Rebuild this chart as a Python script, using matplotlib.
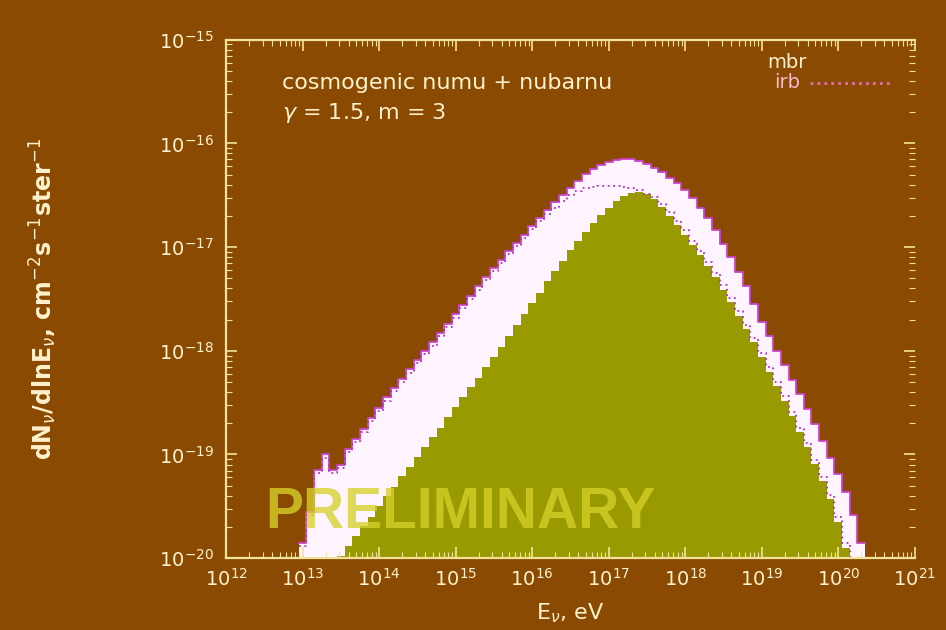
import numpy as np
import matplotlib
matplotlib.use('Agg')
import matplotlib.pyplot as plt
from matplotlib.ticker import LogLocator, NullFormatter

# histogram bins are 0.1 decade wide; values are log10(dN/dlnE)
bin_width = 0.1

# mbr (white band, outer envelope), first bin centred on 10^13.0 eV
mbr_first_edge = 12.95
mbr_log = [-19.85, -19.55, -19.15, -19.00, -19.15, -19.10, -18.95, -18.85, -18.75, -18.65,
           -18.55, -18.45, -18.36, -18.27, -18.18, -18.09, -18.00, -17.92, -17.83, -17.74,
           -17.65, -17.56, -17.47, -17.38, -17.29, -17.20, -17.12, -17.04, -16.96, -16.88,
           -16.80, -16.72, -16.64, -16.57, -16.50, -16.43, -16.36, -16.30, -16.25, -16.21,
           -16.18, -16.16, -16.15, -16.15, -16.17, -16.20, -16.24, -16.28, -16.33, -16.38,
           -16.45, -16.53, -16.62, -16.72, -16.84, -16.97, -17.10, -17.24, -17.38, -17.55,
           -17.72, -17.86, -18.00, -18.14, -18.28, -18.42, -18.56, -18.71, -18.87, -19.03,
           -19.19, -19.36, -19.58, -19.85]

# irb (magenta dotted), same bins as mbr
irb_first_edge = 12.95
irb_log = [-19.88, -19.58, -19.18, -19.03, -19.18, -19.13, -18.98, -18.88, -18.78, -18.68,
           -18.58, -18.48, -18.39, -18.30, -18.21, -18.12, -18.03, -17.95, -17.86, -17.77,
           -17.68, -17.59, -17.50, -17.41, -17.32, -17.23, -17.15, -17.07, -16.99, -16.91,
           -16.83, -16.75, -16.68, -16.62, -16.56, -16.50, -16.46, -16.43, -16.42, -16.41,
           -16.41, -16.41, -16.42, -16.43, -16.45, -16.49, -16.52, -16.58, -16.66, -16.75,
           -16.84, -16.94, -17.04, -17.14, -17.25, -17.37, -17.49, -17.62, -17.75, -17.88,
           -18.02, -18.16, -18.30, -18.44, -18.59, -18.74, -18.89, -19.05, -19.22, -19.39,
           -19.60, -19.85, -20.20, -20.20]

# olive filled histogram, first bin centred on 10^13.5 eV
olive_first_edge = 13.45
olive_log = [-19.98, -19.88, -19.79, -19.69, -19.60, -19.50, -19.40, -19.31, -19.21, -19.12,
             -19.02, -18.93, -18.83, -18.74, -18.64, -18.54, -18.45, -18.35, -18.26, -18.16,
             -18.06, -17.96, -17.86, -17.75, -17.65, -17.54, -17.44, -17.33, -17.23, -17.13,
             -17.03, -16.94, -16.85, -16.77, -16.69, -16.62, -16.56, -16.51, -16.48, -16.47,
             -16.49, -16.54, -16.61, -16.70, -16.79, -16.88, -16.98, -17.08, -17.18, -17.29,
             -17.41, -17.53, -17.66, -17.79, -17.92, -18.06, -18.20, -18.34, -18.48, -18.63,
             -18.78, -18.93, -19.09, -19.26, -19.43, -19.65, -19.90]

x_ticks = [1e12, 1e13, 1e14, 1e15, 1e16, 1e17, 1e18, 1e19, 1e20, 1e21]
y_ticks = [1e-20, 1e-19, 1e-18, 1e-17, 1e-16, 1e-15]

bg = '#8a4a02'
fg = '#fff2cc'
spine_col = '#f3e39a'


def step_xy(first_edge, logvals):
    edges = first_edge + bin_width * np.arange(len(logvals) + 1)
    vals = np.append(logvals, logvals[-1])
    return 10 ** edges, 10 ** vals


fig = plt.figure(figsize=(9.46, 6.3), dpi=100, facecolor=bg)
ax = fig.add_axes([0.239, 0.114, 0.728, 0.823], facecolor=bg)

x, y = step_xy(mbr_first_edge, mbr_log)
ax.fill_between(x, y, 1e-22, step='post', color='#fff4ff', lw=0)
ax.plot(x, y, drawstyle='steps-post', color='#cc44cc', lw=1.3)

x, y = step_xy(olive_first_edge, olive_log)
ax.fill_between(x, y, 1e-22, step='post', color='#999900', lw=0)

x, y = step_xy(irb_first_edge, irb_log)
ax.plot(x, y, drawstyle='steps-post', color='#b030c0', lw=1.3, ls=(0, (1, 2)))

ax.set_xscale('log')
ax.set_yscale('log')
ax.set_xlim(1e12, 1e21)
ax.set_ylim(1e-20, 1e-15)
ax.set_xticks(x_ticks)
ax.set_yticks(y_ticks)
ax.xaxis.set_minor_locator(LogLocator(base=10, subs=np.arange(2, 10), numticks=30))
ax.yaxis.set_minor_locator(LogLocator(base=10, subs=np.arange(2, 10), numticks=30))
ax.xaxis.set_minor_formatter(NullFormatter())
ax.yaxis.set_minor_formatter(NullFormatter())

ax.tick_params(which='both', direction='in', top=True, right=True, colors=spine_col,
               labelcolor=fg, labelsize=14)
ax.tick_params(which='major', length=8, width=1.2)
ax.tick_params(which='minor', length=4, width=0.8)
ax.tick_params(axis='y', pad=9)
ax.tick_params(axis='x', pad=7)

for side in ['left', 'top', 'bottom']:
    ax.spines[side].set_color(spine_col)
    ax.spines[side].set_linewidth(1.6)
ax.spines['right'].set_visible(False)

ax.set_xlabel(r'E$_\nu$, eV', color=fg, fontsize=16, labelpad=8)
ax.set_ylabel(r'dN$_\nu$/dlnE$_\nu$, cm$^{-2}$s$^{-1}$ster$^{-1}$', color=fg,
              fontsize=17, fontweight='bold', labelpad=72)

ax.text(0.081, 0.917, 'cosmogenic numu + nubarnu', transform=ax.transAxes,
        color=fg, fontsize=16, va='center', ha='left')
ax.text(0.081, 0.859, r'$\gamma$ = 1.5, m = 3', transform=ax.transAxes,
        color=fg, fontsize=16, va='center', ha='left')

# key
ax.text(0.843, 0.956, 'mbr', transform=ax.transAxes, color=fg, fontsize=14,
        va='center', ha='right')
ax.text(0.833, 0.917, 'irb', transform=ax.transAxes, color='#f4b8d0', fontsize=14,
        va='center', ha='right')
ax.plot([0.848, 0.968], [0.917, 0.917], transform=ax.transAxes, color='#e070b0',
        lw=2, ls=(0, (1, 1.5)))

ax.text(0.0575, 0.088, 'PRELIMINARY', transform=ax.transAxes, color=(0.84, 0.82, 0.16),
        alpha=0.78, fontsize=41, fontweight='bold', family='Liberation Sans',
        va='center', ha='left')

fig.savefig('out.png', dpi=100, facecolor=bg)
